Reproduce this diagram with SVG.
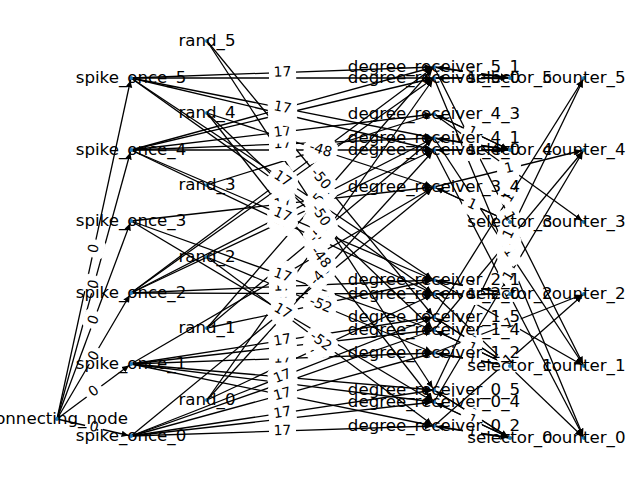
<svg xmlns="http://www.w3.org/2000/svg" width="640" height="480" viewBox="0 0 640 480">
<style>
.e line{stroke:#000;stroke-width:1.3;fill:none;marker-end:url(#ah)}
.n circle{fill:#1f78b4}
.n text{font-family:"DejaVu Sans",sans-serif;font-size:16.67px;text-anchor:middle;fill:#000}
.w rect{fill:#fff;stroke:#fff;stroke-width:1}
.w text{font-family:"DejaVu Sans",sans-serif;font-size:13.9px;text-anchor:middle;fill:#000}
</style>
<defs>
<marker id="ah" markerUnits="userSpaceOnUse" markerWidth="12" markerHeight="10" viewBox="0 -5 12 10" refX="9.5" refY="0" orient="auto">
<path d="M0,-3.3 L7,0 L0,3.3 z" fill="#000"/>
</marker>
<g id="w0" class="w"><rect x="-8.6" y="-10.5" width="17.2" height="21" rx="4"/><text y="3.9">0</text></g>
<g id="w1" class="w"><rect x="-8.6" y="-10.5" width="17.2" height="21" rx="4"/><text y="3.9">1</text></g>
<g id="w17" class="w"><rect x="-13" y="-10.5" width="26" height="21" rx="4"/><text y="3.9">17</text></g>
<g id="wm46" class="w"><rect x="-15.5" y="-10.5" width="31" height="21" rx="4"/><text y="3.9">-46</text></g>
<g id="wm54" class="w"><rect x="-15.5" y="-10.5" width="31" height="21" rx="4"/><text y="3.9">-54</text></g>
<g id="wm52" class="w"><rect x="-15.5" y="-10.5" width="31" height="21" rx="4"/><text y="3.9">-52</text></g>
<g id="wm44" class="w"><rect x="-15.5" y="-10.5" width="31" height="21" rx="4"/><text y="3.9">-44</text></g>
<g id="wm48" class="w"><rect x="-15.5" y="-10.5" width="31" height="21" rx="4"/><text y="3.9">-48</text></g>
<g id="wm50" class="w"><rect x="-15.5" y="-10.5" width="31" height="21" rx="4"/><text y="3.9">-50</text></g>
</defs>
<rect width="640" height="480" fill="#fff"/>

<g id="connectors">
<g class="e">
<!-- connecting_node to spike_once -->
<line x1="57" y1="419" x2="131" y2="436"/>
<line x1="57" y1="419" x2="131" y2="364"/>
<line x1="57" y1="419" x2="131" y2="293"/>
<line x1="57" y1="419" x2="131" y2="221"/>
<line x1="57" y1="419" x2="131" y2="150"/>
<line x1="57" y1="419" x2="131" y2="78"/>
<!-- spike_once to degree receivers -->
<line x1="131" y1="436" x2="434" y2="426"/>
<line x1="131" y1="436" x2="434" y2="353"/>
<line x1="131" y1="436" x2="434" y2="402"/>
<line x1="131" y1="436" x2="434" y2="330"/>
<line x1="131" y1="436" x2="434" y2="187"/>
<line x1="131" y1="436" x2="434" y2="390"/>
<line x1="131" y1="436" x2="434" y2="317"/>
<line x1="131" y1="364" x2="434" y2="426"/>
<line x1="131" y1="364" x2="434" y2="353"/>
<line x1="131" y1="364" x2="434" y2="402"/>
<line x1="131" y1="364" x2="434" y2="330"/>
<line x1="131" y1="364" x2="434" y2="187"/>
<line x1="131" y1="364" x2="434" y2="390"/>
<line x1="131" y1="364" x2="434" y2="317"/>
<line x1="131" y1="293" x2="434" y2="294"/>
<line x1="131" y1="293" x2="434" y2="150"/>
<line x1="131" y1="293" x2="434" y2="78"/>
<line x1="131" y1="293" x2="434" y2="280"/>
<line x1="131" y1="293" x2="434" y2="138"/>
<line x1="131" y1="293" x2="434" y2="67"/>
<line x1="131" y1="221" x2="434" y2="402"/>
<line x1="131" y1="221" x2="434" y2="330"/>
<line x1="131" y1="221" x2="434" y2="187"/>
<line x1="131" y1="150" x2="434" y2="294"/>
<line x1="131" y1="150" x2="434" y2="150"/>
<line x1="131" y1="150" x2="434" y2="78"/>
<line x1="131" y1="150" x2="434" y2="280"/>
<line x1="131" y1="150" x2="434" y2="138"/>
<line x1="131" y1="150" x2="434" y2="67"/>
<line x1="131" y1="150" x2="434" y2="114"/>
<line x1="131" y1="78" x2="434" y2="294"/>
<line x1="131" y1="78" x2="434" y2="150"/>
<line x1="131" y1="78" x2="434" y2="78"/>
<line x1="131" y1="78" x2="434" y2="280"/>
<line x1="131" y1="78" x2="434" y2="138"/>
<line x1="131" y1="78" x2="434" y2="67"/>
<!-- rand to degree receivers -->
<line x1="207" y1="400" x2="434" y2="294"/>
<line x1="207" y1="400" x2="434" y2="150"/>
<line x1="207" y1="400" x2="434" y2="78"/>
<line x1="207" y1="328" x2="434" y2="280"/>
<line x1="207" y1="328" x2="434" y2="138"/>
<line x1="207" y1="328" x2="434" y2="67"/>
<line x1="207" y1="257" x2="434" y2="426"/>
<line x1="207" y1="257" x2="434" y2="353"/>
<line x1="207" y1="185" x2="434" y2="114"/>
<line x1="207" y1="113" x2="434" y2="402"/>
<line x1="207" y1="113" x2="434" y2="330"/>
<line x1="207" y1="113" x2="434" y2="187"/>
<line x1="207" y1="41" x2="434" y2="390"/>
<line x1="207" y1="41" x2="434" y2="317"/>
<!-- degree receivers and selectors, both directions -->
<line x1="510" y1="78" x2="434" y2="67"/><line x1="434" y1="67" x2="510" y2="78"/>
<line x1="510" y1="78" x2="434" y2="78"/><line x1="434" y1="78" x2="510" y2="78"/>
<line x1="510" y1="150" x2="434" y2="114"/><line x1="434" y1="114" x2="510" y2="150"/>
<line x1="510" y1="150" x2="434" y2="138"/><line x1="434" y1="138" x2="510" y2="150"/>
<line x1="510" y1="150" x2="434" y2="150"/><line x1="434" y1="150" x2="510" y2="150"/>
<line x1="510" y1="222" x2="434" y2="187"/><line x1="434" y1="187" x2="510" y2="222"/>
<line x1="510" y1="294" x2="434" y2="280"/><line x1="434" y1="280" x2="510" y2="294"/>
<line x1="510" y1="294" x2="434" y2="294"/><line x1="434" y1="294" x2="510" y2="294"/>
<line x1="510" y1="366" x2="434" y2="317"/><line x1="434" y1="317" x2="510" y2="366"/>
<line x1="510" y1="366" x2="434" y2="330"/><line x1="434" y1="330" x2="510" y2="366"/>
<line x1="510" y1="366" x2="434" y2="353"/><line x1="434" y1="353" x2="510" y2="366"/>
<line x1="510" y1="438" x2="434" y2="390"/><line x1="434" y1="390" x2="510" y2="438"/>
<line x1="510" y1="438" x2="434" y2="402"/><line x1="434" y1="402" x2="510" y2="438"/>
<line x1="510" y1="438" x2="434" y2="426"/><line x1="434" y1="426" x2="510" y2="438"/>
<!-- degree receivers to counters -->
<line x1="434" y1="67" x2="584" y2="366"/>
<line x1="434" y1="78" x2="584" y2="438"/>
<line x1="434" y1="114" x2="584" y2="222"/>
<line x1="434" y1="138" x2="584" y2="366"/>
<line x1="434" y1="150" x2="584" y2="438"/>
<line x1="434" y1="187" x2="584" y2="150"/>
<line x1="434" y1="280" x2="584" y2="366"/>
<line x1="434" y1="294" x2="584" y2="438"/>
<line x1="434" y1="317" x2="584" y2="78"/>
<line x1="434" y1="330" x2="584" y2="150"/>
<line x1="434" y1="353" x2="584" y2="294"/>
<line x1="434" y1="390" x2="584" y2="78"/>
<line x1="434" y1="402" x2="584" y2="150"/>
<line x1="434" y1="426" x2="584" y2="294"/>
</g>

<g id="weights">
<use href="#w0" transform="translate(94,427.5) rotate(12.94)"/>
<use href="#w0" transform="translate(94,391.5) rotate(-36.62)"/>
<use href="#w0" transform="translate(94,356) rotate(-59.57)"/>
<use href="#w0" transform="translate(94,320) rotate(-69.51)"/>
<use href="#w0" transform="translate(94,284.5) rotate(-74.62)"/>
<use href="#w0" transform="translate(94,248.5) rotate(-77.76)"/>

<use href="#w17" transform="translate(282.5,311.5) rotate(-39.41)"/>
<use href="#w17" transform="translate(282.5,275.5) rotate(-30.29)"/>
<use href="#w17" transform="translate(282.5,358.5) rotate(-2.08)"/>
<use href="#w17" transform="translate(282.5,347) rotate(-6.40)"/>
<use href="#w17" transform="translate(282.5,340.5) rotate(-8.82)"/>
<use href="#w17" transform="translate(282.5,383) rotate(7.15)"/>
<use href="#w17" transform="translate(282.5,383) rotate(-19.28)"/>
<use href="#w17" transform="translate(282.5,377) rotate(4.90)"/>
<use href="#w17" transform="translate(282.5,376.5) rotate(-21.44)"/>
<use href="#w17" transform="translate(282.5,395) rotate(11.56)"/>
<use href="#w17" transform="translate(282.5,394.5) rotate(-15.32)"/>
<use href="#w17" transform="translate(282.5,419) rotate(-6.40)"/>
<use href="#w17" transform="translate(282.5,413) rotate(-8.63)"/>
<use href="#w17" transform="translate(282.5,431) rotate(-1.89)"/>
<use href="#w17" transform="translate(282.5,293.5) rotate(0.19)"/>
<use href="#w17" transform="translate(282.5,221.5) rotate(-25.27)"/>
<use href="#w17" transform="translate(282.5,185.5) rotate(-35.36)"/>
<use href="#w17" transform="translate(282.5,286.5) rotate(-2.46)"/>
<use href="#w17" transform="translate(282.5,215.5) rotate(-27.09)"/>
<use href="#w17" transform="translate(282.5,180) rotate(-36.72)"/>
<use href="#w17" transform="translate(282.5,311.5) rotate(30.85)"/>
<use href="#w17" transform="translate(282.5,275.5) rotate(19.78)"/>
<use href="#w17" transform="translate(282.5,204) rotate(-6.40)"/>
<use href="#w17" transform="translate(282.5,222) rotate(25.42)"/>
<use href="#w17" transform="translate(282.5,150) rotate(0)"/>
<use href="#w17" transform="translate(282.5,114) rotate(-13.37)"/>
<use href="#w17" transform="translate(282.5,215) rotate(23.22)"/>
<use href="#w17" transform="translate(282.5,144) rotate(-2.27)"/>
<use href="#w17" transform="translate(282.5,108.5) rotate(-15.32)"/>
<use href="#w17" transform="translate(282.5,132) rotate(-6.78)"/>
<use href="#w17" transform="translate(282.5,186) rotate(35.49)"/>
<use href="#w17" transform="translate(282.5,114) rotate(13.37)"/>
<use href="#w17" transform="translate(282.5,78) rotate(0)"/>
<use href="#w17" transform="translate(282.5,179) rotate(33.69)"/>
<use href="#w17" transform="translate(282.5,108) rotate(11.20)"/>
<use href="#w17" transform="translate(282.5,72.5) rotate(-2.08)"/>

<use href="#wm46" transform="translate(320.5,347) rotate(-25.03)"/>
<use href="#wm46" transform="translate(320.5,275) rotate(-47.76)"/>
<use href="#wm46" transform="translate(320.5,239) rotate(-54.82)"/>
<use href="#wm54" transform="translate(320.5,304) rotate(-11.94)"/>
<use href="#wm54" transform="translate(320.5,233) rotate(-39.93)"/>
<use href="#wm54" transform="translate(320.5,197.5) rotate(-48.98)"/>
<use href="#wm52" transform="translate(320.5,341.5) rotate(36.67)"/>
<use href="#wm52" transform="translate(320.5,305) rotate(22.93)"/>
<use href="#wm44" transform="translate(320.5,149.5) rotate(-17.37)"/>
<use href="#wm48" transform="translate(320.5,257.5) rotate(51.85)"/>
<use href="#wm48" transform="translate(320.5,221.5) rotate(43.71)"/>
<use href="#wm48" transform="translate(320.5,150) rotate(18.06)"/>
<use href="#wm50" transform="translate(320.5,215.5) rotate(56.96)"/>
<use href="#wm50" transform="translate(320.5,179) rotate(50.56)"/>

<use href="#w1" transform="translate(472,72.5) rotate(8.24)"/>
<use href="#w1" transform="translate(472,78) rotate(0)"/>
<use href="#w1" transform="translate(472,132) rotate(25.35)"/>
<use href="#w1" transform="translate(472,144) rotate(8.97)"/>
<use href="#w1" transform="translate(472,150) rotate(0)"/>
<use href="#w1" transform="translate(472,204.5) rotate(24.72)"/>
<use href="#w1" transform="translate(472,287) rotate(10.44)"/>
<use href="#w1" transform="translate(472,294) rotate(0)"/>
<use href="#w1" transform="translate(472,341.5) rotate(32.82)"/>
<use href="#w1" transform="translate(472,348) rotate(25.35)"/>
<use href="#w1" transform="translate(472,359.5) rotate(9.71)"/>
<use href="#w1" transform="translate(472,414) rotate(32.28)"/>
<use href="#w1" transform="translate(472,420) rotate(25.35)"/>
<use href="#w1" transform="translate(472,432) rotate(8.97)"/>

<use href="#w1" transform="translate(509,216.5) rotate(63.36)"/>
<use href="#w1" transform="translate(509,258) rotate(67.38)"/>
<use href="#w1" transform="translate(509,168) rotate(35.75)"/>
<use href="#w1" transform="translate(509,252) rotate(56.66)"/>
<use href="#w1" transform="translate(509,294) rotate(62.49)"/>
<use href="#w1" transform="translate(509,168.5) rotate(-13.86)"/>
<use href="#w1" transform="translate(509,323) rotate(29.83)"/>
<use href="#w1" transform="translate(509,366) rotate(43.83)"/>
<use href="#w1" transform="translate(509,197.5) rotate(-57.89)"/>
<use href="#w1" transform="translate(509,240) rotate(-50.19)"/>
<use href="#w1" transform="translate(509,323.5) rotate(-21.47)"/>
<use href="#w1" transform="translate(509,234) rotate(-64.32)"/>
<use href="#w1" transform="translate(509,276) rotate(-59.24)"/>
<use href="#w1" transform="translate(509,360) rotate(-41.35)"/>
</g>
</g>

<g id="connecting_node" class="n"><circle cx="57" cy="419" r="2"/><text x="57" y="423.7">connecting_node</text></g>

<g id="spike_once_0" class="n"><circle cx="131" cy="436" r="2"/><text x="131" y="440.7">spike_once_0</text></g>
<g id="spike_once_1" class="n"><circle cx="131" cy="364" r="2"/><text x="131" y="368.7">spike_once_1</text></g>
<g id="spike_once_2" class="n"><circle cx="131" cy="293" r="2"/><text x="131" y="297.7">spike_once_2</text></g>
<g id="spike_once_3" class="n"><circle cx="131" cy="221" r="2"/><text x="131" y="225.7">spike_once_3</text></g>
<g id="spike_once_4" class="n"><circle cx="131" cy="150" r="2"/><text x="131" y="154.7">spike_once_4</text></g>
<g id="spike_once_5" class="n"><circle cx="131" cy="78" r="2"/><text x="131" y="82.7">spike_once_5</text></g>

<g id="rand_0" class="n"><circle cx="207" cy="400" r="2"/><text x="207" y="404.7">rand_0</text></g>
<g id="rand_1" class="n"><circle cx="207" cy="328" r="2"/><text x="207" y="332.7">rand_1</text></g>
<g id="rand_2" class="n"><circle cx="207" cy="257" r="2"/><text x="207" y="261.7">rand_2</text></g>
<g id="rand_3" class="n"><circle cx="207" cy="185" r="2"/><text x="207" y="189.7">rand_3</text></g>
<g id="rand_4" class="n"><circle cx="207" cy="113" r="2"/><text x="207" y="117.7">rand_4</text></g>
<g id="rand_5" class="n"><circle cx="207" cy="41" r="2"/><text x="207" y="45.7">rand_5</text></g>

<g id="degree_receiver_5_1" class="n"><circle cx="434" cy="67" r="2"/><text x="434" y="71.7">degree_receiver_5_1</text></g>
<g id="degree_receiver_5_0" class="n"><circle cx="434" cy="78" r="2"/><text x="434" y="82.7">degree_receiver_5_0</text></g>
<g id="degree_receiver_4_3" class="n"><circle cx="434" cy="114" r="2"/><text x="434" y="118.7">degree_receiver_4_3</text></g>
<g id="degree_receiver_4_1" class="n"><circle cx="434" cy="138" r="2"/><text x="434" y="142.7">degree_receiver_4_1</text></g>
<g id="degree_receiver_4_0" class="n"><circle cx="434" cy="150" r="2"/><text x="434" y="154.7">degree_receiver_4_0</text></g>
<g id="degree_receiver_3_4" class="n"><circle cx="434" cy="187" r="2"/><text x="434" y="191.7">degree_receiver_3_4</text></g>
<g id="degree_receiver_2_1" class="n"><circle cx="434" cy="280" r="2"/><text x="434" y="284.7">degree_receiver_2_1</text></g>
<g id="degree_receiver_2_0" class="n"><circle cx="434" cy="294" r="2"/><text x="434" y="298.7">degree_receiver_2_0</text></g>
<g id="degree_receiver_1_5" class="n"><circle cx="434" cy="317" r="2"/><text x="434" y="321.7">degree_receiver_1_5</text></g>
<g id="degree_receiver_1_4" class="n"><circle cx="434" cy="330" r="2"/><text x="434" y="334.7">degree_receiver_1_4</text></g>
<g id="degree_receiver_1_2" class="n"><circle cx="434" cy="353" r="2"/><text x="434" y="357.7">degree_receiver_1_2</text></g>
<g id="degree_receiver_0_5" class="n"><circle cx="434" cy="390" r="2"/><text x="434" y="394.7">degree_receiver_0_5</text></g>
<g id="degree_receiver_0_4" class="n"><circle cx="434" cy="402" r="2"/><text x="434" y="406.7">degree_receiver_0_4</text></g>
<g id="degree_receiver_0_2" class="n"><circle cx="434" cy="426" r="2"/><text x="434" y="430.7">degree_receiver_0_2</text></g>

<g id="selector_5" class="n"><circle cx="510" cy="78" r="2"/><text x="510" y="82.7">selector_5</text></g>
<g id="selector_4" class="n"><circle cx="510" cy="150" r="2"/><text x="510" y="154.7">selector_4</text></g>
<g id="selector_3" class="n"><circle cx="510" cy="222" r="2"/><text x="510" y="226.7">selector_3</text></g>
<g id="selector_2" class="n"><circle cx="510" cy="294" r="2"/><text x="510" y="298.7">selector_2</text></g>
<g id="selector_1" class="n"><circle cx="510" cy="366" r="2"/><text x="510" y="370.7">selector_1</text></g>
<g id="selector_0" class="n"><circle cx="510" cy="438" r="2"/><text x="510" y="442.7">selector_0</text></g>

<g id="counter_5" class="n"><circle cx="584" cy="78" r="2"/><text x="584" y="82.7">counter_5</text></g>
<g id="counter_4" class="n"><circle cx="584" cy="150" r="2"/><text x="584" y="154.7">counter_4</text></g>
<g id="counter_3" class="n"><circle cx="584" cy="222" r="2"/><text x="584" y="226.7">counter_3</text></g>
<g id="counter_2" class="n"><circle cx="584" cy="294" r="2"/><text x="584" y="298.7">counter_2</text></g>
<g id="counter_1" class="n"><circle cx="584" cy="366" r="2"/><text x="584" y="370.7">counter_1</text></g>
<g id="counter_0" class="n"><circle cx="584" cy="438" r="2"/><text x="584" y="442.7">counter_0</text></g>
</svg>
